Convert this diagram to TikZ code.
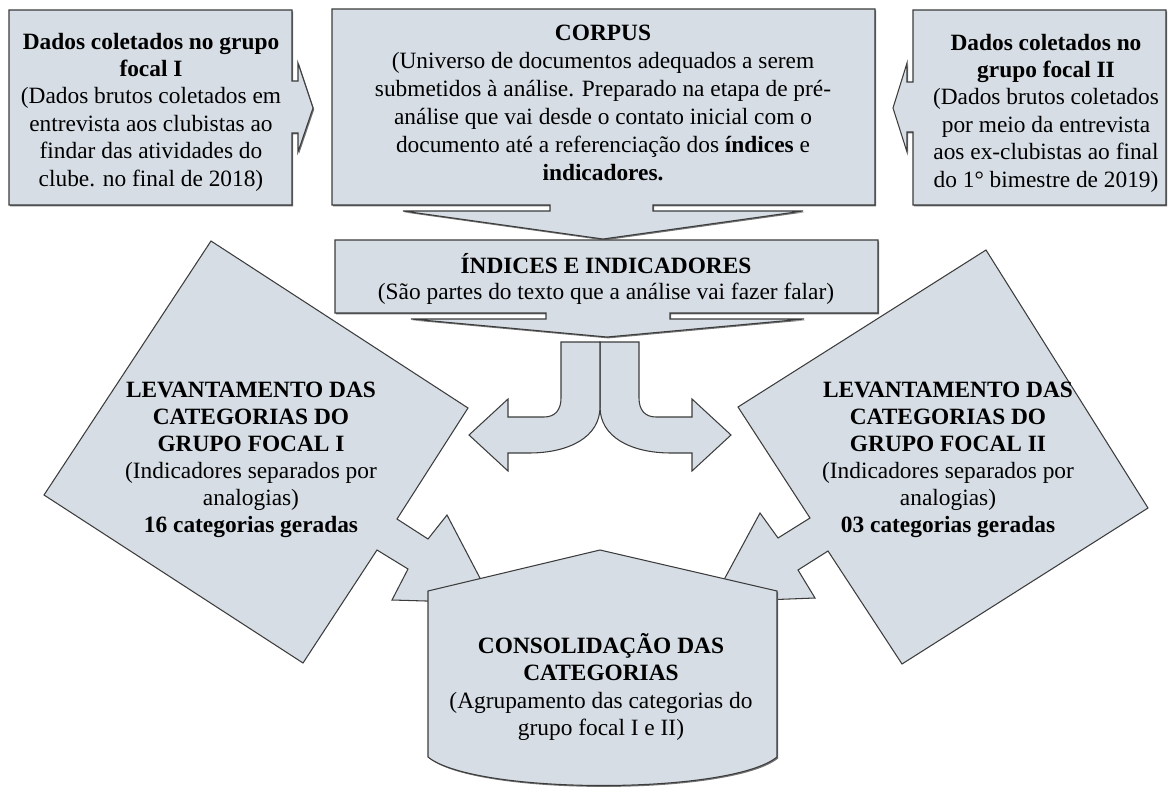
\documentclass[tikz,border=0pt]{standalone}
\usepackage{fontspec}
\setmainfont{Liberation Serif}
\usetikzlibrary{shadows}
\definecolor{fillc}{RGB}{214,221,229}
\definecolor{linec}{RGB}{60,60,60}
\tikzset{
  shp/.style={fill=fillc, draw=linec, line width=0.6pt, line join=miter},
  shd/.style={drop shadow={shadow xshift=0.7pt, shadow yshift=-0.8pt, fill=black!55, opacity=1}},
  txt/.style={align=center, inner sep=0pt, font=\fontsize{13.3}{15.6}\selectfont},
}
\begin{document}
\begin{tikzpicture}[x=0.02cm, y=-0.02cm]
\useasboundingbox (0,0) rectangle (1169,790);

% top left box with right arrow
\path[shp, shd] (9,10) -- (292,10) -- (292,81) -- (298,81) -- (298,63) -- (313,108)
  -- (298,152) -- (298,133) -- (292,133) -- (292,205) -- (9,205) -- cycle;
% top right box with left arrow
\path[shp, shd] (1166,10) -- (913,10) -- (913,82) -- (907,82) -- (907,63) -- (893,108)
  -- (907,152) -- (907,132) -- (913,132) -- (913,205) -- (1166,205) -- cycle;
% CORPUS with down arrow
\path[shp, shd] (332,9) -- (875,9) -- (875,205) -- (653,205) -- (653,211) -- (803,211)
  -- (603,239) -- (403,211) -- (550,211) -- (550,205) -- (332,205) -- cycle;
% INDICES with down arrow
\path[shp, shd] (335,240) -- (878,240) -- (878,313) -- (670,313) -- (670,319) -- (804,319)
  -- (607,337) -- (411,319) -- (546,319) -- (546,313) -- (335,313) -- cycle;

% split arrow, right half
\path[shp] (600,342) -- (639,342) -- (639,398) .. controls (639,410) and (645,417) .. (656,417)
  -- (692,417) -- (692,399) -- (731,435) -- (692,471) -- (692,453) -- (671,453)
  .. controls (631,453) and (600,437) .. (600,407) -- cycle;
% split arrow, left half
\path[shp] (600,342) -- (561,342) -- (561,398) .. controls (561,410) and (555,417) .. (544,417)
  -- (508,417) -- (508,399) -- (469,435) -- (508,471) -- (508,453) -- (529,453)
  .. controls (569,453) and (600,437) .. (600,407) -- cycle;

% left category callout
\path[shp] (211,241) -- (468,408) -- (397,519) -- (428,539) -- (447,515) -- (493,603)
  -- (392,600) -- (408,569) -- (377,550) -- (303,663) -- (44,495) -- cycle;
% right category callout
\path[shp] (986,250) -- (1148,508) -- (902,664) -- (828,551) -- (798,570) -- (815,598)
  -- (712,602) -- (760,513) -- (778,538) -- (810,518) -- (738,407) -- cycle;

% consolidation box
\path[shp, shd] (428,591) -- (600,550) -- (777,591) -- (777,757)
  .. controls (730,795) and (475,795) .. (428,757) -- cycle;

% texts
\node[txt] (tleft) at (151,112) {\textbf{Dados coletados no grupo}\\ \textbf{focal I}\\ (Dados brutos coletados em\\ entrevista aos clubistas ao\\ findar das atividades do\\ clube. no final de 2018)};
\node[txt] (tright) at (1046,113) {\textbf{Dados coletados no}\\ \textbf{grupo focal II}\\ (Dados brutos coletados\\ por meio da entrevista\\ aos ex-clubistas ao final\\ do 1° bimestre de 2019)};
\node[txt, font=\fontsize{13.3}{15.9}\selectfont] (tcorpus) at (603,103) {\textbf{CORPUS}\\ (Universo de documentos adequados a serem\\ submetidos à análise. Preparado na etapa de pré-\\ análise que vai desde o contato inicial com o\\ documento até a referenciação dos \textbf{índices} e\\ \textbf{indicadores.}};
\node[txt, font=\fontsize{13.3}{14.4}\selectfont] (tind) at (606,279) {\textbf{ÍNDICES E INDICADORES}\\ (São partes do texto que a análise vai fazer falar)};
\node[txt, font=\fontsize{13.3}{15.3}\selectfont] (tcat1) at (251,460) {\textbf{LEVANTAMENTO DAS}\\ \textbf{CATEGORIAS DO}\\ \textbf{GRUPO FOCAL I}\\ (Indicadores separados por\\ analogias)\\ \textbf{16 categorias geradas}};
\node[txt, font=\fontsize{13.3}{15.3}\selectfont] (tcat2) at (948,460) {\textbf{LEVANTAMENTO DAS}\\ \textbf{CATEGORIAS DO}\\ \textbf{GRUPO FOCAL II}\\ (Indicadores separados por\\ analogias)\\ \textbf{03 categorias geradas}};
\node[txt] (tcons) at (601,687) {\textbf{CONSOLIDAÇÃO DAS}\\ \textbf{CATEGORIAS}\\ (Agrupamento das categorias do\\ grupo focal I e II)};
\end{tikzpicture}
\end{document}
